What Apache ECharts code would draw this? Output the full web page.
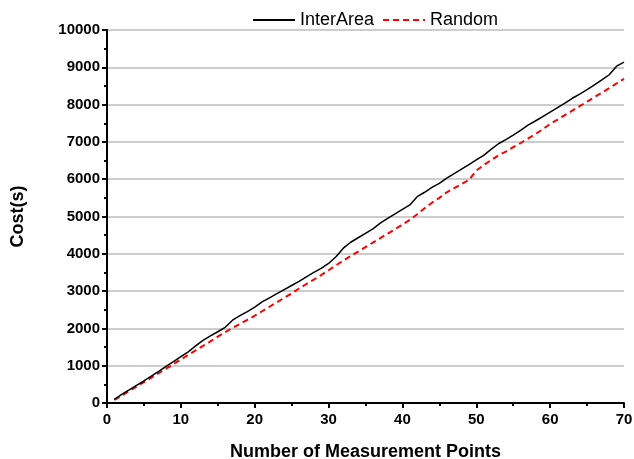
<!DOCTYPE html>
<html>
<head>
<meta charset="utf-8">
<script src="https://cdn.jsdelivr.net/npm/echarts@6/dist/echarts.min.js"></script>
<style>html,body{margin:0;padding:0;background:#fff}#c{width:634px;height:459px}</style>
</head>
<body>
<div id="c"></div>
<script>
const xValues = [1,2,3,4,5,6,7,8,9,10,11,12,13,14,15,16,17,18,19,20,21,22,23,24,25,26,27,28,29,30,31,32,33,34,35,36,37,38,39,40,41,42,43,44,45,46,47,48,49,50,51,52,53,54,55,56,57,58,59,60,61,62,63,64,65,66,67,68,69,70];
const interArea = [100,230,350,470,590,720,850,980,1110,1240,1370,1530,1680,1800,1910,2030,2220,2340,2450,2570,2710,2820,2930,3040,3150,3260,3380,3500,3610,3740,3920,4150,4310,4430,4550,4670,4820,4950,5070,5190,5310,5530,5650,5780,5890,6030,6150,6270,6390,6515,6640,6800,6950,7060,7180,7310,7450,7560,7680,7800,7920,8040,8170,8280,8400,8530,8660,8800,9030,9140];
const random = [80,200,320,440,560,680,800,920,1040,1170,1290,1410,1530,1650,1780,1900,2010,2120,2230,2340,2460,2580,2700,2820,2940,3070,3190,3310,3430,3560,3690,3820,3940,4060,4180,4300,4420,4540,4660,4780,4910,5060,5220,5370,5500,5650,5760,5870,5980,6230,6380,6510,6640,6740,6860,6970,7090,7210,7340,7480,7600,7720,7840,7960,8080,8200,8320,8440,8570,8690];
const seriesNames = ['InterArea', 'Random'];
const xAxisName = 'Number of Measurement Points';
const yAxisName = 'Cost(s)';

const chart = echarts.init(document.getElementById('c'));
const FONT = 'Liberation Sans, Arial, sans-serif';
chart.setOption({
  animation: false,
  textStyle: { fontFamily: FONT },
  legend: {
    top: 6, left: 247,
    itemWidth: 42, itemHeight: 14, itemGap: 8,
    itemStyle: { opacity: 0, borderWidth: 0 },
    textStyle: { fontSize: 18, color: '#000', fontFamily: FONT },
    data: seriesNames
  },
  grid: { left: 107, right: 10, top: 30, bottom: 56, outerBoundsMode: 'none', containLabel: false },
  xAxis: {
    type: 'value', min: 0, max: 70, interval: 10,
    name: xAxisName, nameLocation: 'middle', nameGap: 40,
    nameTextStyle: { fontSize: 18, fontWeight: 'bold', color: '#000', fontFamily: FONT },
    axisLine: { lineStyle: { color: '#000', width: 2 } },
    axisTick: { show: true, inside: false, length: 5, lineStyle: { color: '#000', width: 2 } },
    minorTick: { show: true, splitNumber: 2, length: 3, lineStyle: { color: '#000', width: 2 } },
    axisLabel: { fontSize: 15, fontWeight: 'bold', color: '#000', margin: 9, fontFamily: FONT },
    splitLine: { show: false }
  },
  yAxis: {
    type: 'value', min: 0, max: 10000, interval: 1000,
    name: yAxisName, nameLocation: 'middle', nameGap: 80, nameRotate: 90,
    nameTextStyle: { fontSize: 18, fontWeight: 'bold', color: '#000', fontFamily: FONT },
    axisLine: { show: true, lineStyle: { color: '#000', width: 2 } },
    axisTick: { show: true, inside: false, length: 5, lineStyle: { color: '#000', width: 2 } },
    minorTick: { show: true, splitNumber: 2, length: 3, lineStyle: { color: '#000', width: 2 } },
    axisLabel: { fontSize: 15, fontWeight: 'bold', color: '#000', margin: 7, fontFamily: FONT,
      formatter: v => String(v) },
    splitLine: { show: true, lineStyle: { color: '#bdbdbd', width: 1.5 } }
  },
  series: [
    {
      name: seriesNames[0], type: 'line', symbol: 'none', showSymbol: false,
      data: xValues.map((x, i) => [x, interArea[i]]),
      lineStyle: { color: '#000', width: 1.5 },
      itemStyle: { color: '#000' }, z: 3
    },
    {
      name: seriesNames[1], type: 'line', symbol: 'none', showSymbol: false,
      data: xValues.map((x, i) => [x, random[i]]),
      lineStyle: { color: '#ff0000', width: 2, type: [6, 4] },
      itemStyle: { color: '#ff0000' }, z: 2
    }
  ]
});
</script>
</body>
</html>
